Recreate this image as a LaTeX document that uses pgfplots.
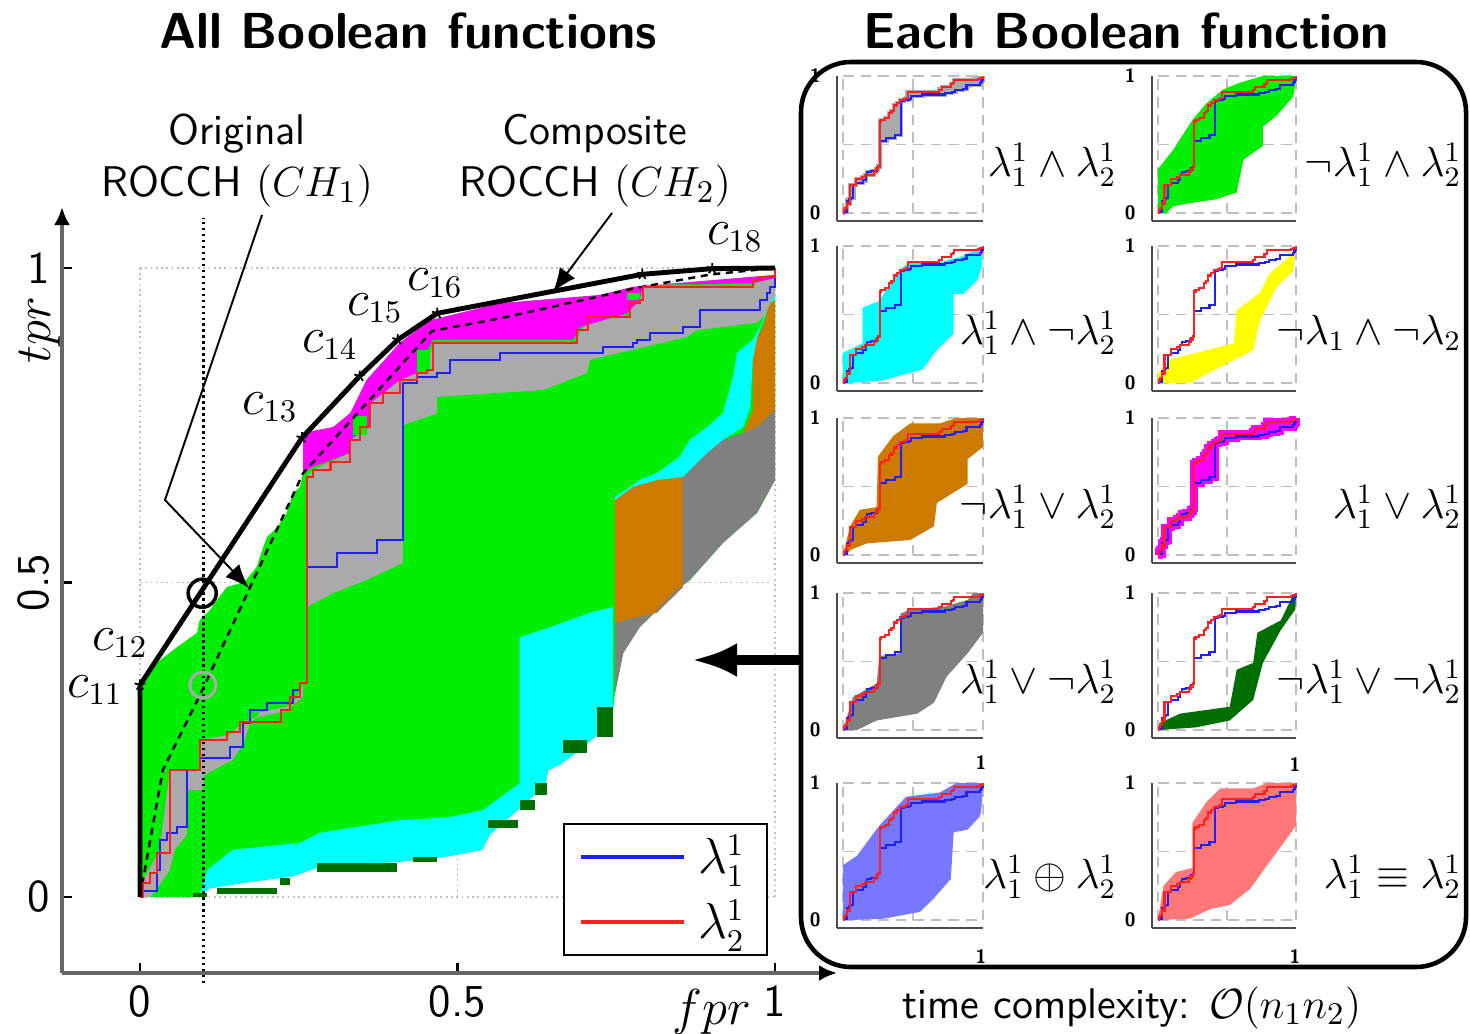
\documentclass[border=0pt]{standalone}
\usepackage{graphicx}
\usepackage{pgfplots}
\pgfplotsset{compat=1.18}
\usepackage{pgfplotstable}
\usetikzlibrary{arrows.meta}

\definecolor{cGreen}{HTML}{00EE00}
\definecolor{cCyan}{HTML}{00FFFF}
\definecolor{cMag}{HTML}{FF00FF}
\definecolor{cBrown}{HTML}{CC7A00}
\definecolor{cLGray}{HTML}{AAAAAA}
\definecolor{cDGray}{HTML}{808080}
\definecolor{cDGreen}{HTML}{006E00}
\definecolor{cYellow}{HTML}{FFFF00}
\definecolor{cBlueF}{HTML}{7777FF}
\definecolor{cRedF}{HTML}{FF7777}
\definecolor{cRed}{HTML}{FF2020}
\definecolor{cBlue}{HTML}{2020FF}

\pgfplotstableread{
x y
0 0
0.005 0
0.005 0.022
0.016 0.022
0.016 0.038
0.027 0.038
0.027 0.070
0.047 0.070
0.047 0.202
0.094 0.202
0.094 0.250
0.137 0.250
0.137 0.262
0.157 0.262
0.157 0.278
0.222 0.278
0.222 0.297
0.236 0.297
0.236 0.318
0.252 0.318
0.252 0.340
0.263 0.340
0.263 0.668
0.272 0.668
0.272 0.679
0.300 0.679
0.300 0.692
0.331 0.692
0.331 0.727
0.346 0.727
0.346 0.747
0.362 0.747
0.362 0.785
0.383 0.785
0.383 0.801
0.409 0.801
0.409 0.822
0.436 0.822
0.436 0.833
0.452 0.833
0.452 0.838
0.461 0.838
0.461 0.881
0.688 0.881
0.688 0.901
0.705 0.901
0.705 0.922
0.772 0.922
0.772 0.944
0.787 0.944
0.787 0.949
0.792 0.949
0.792 0.970
0.965 0.970
0.965 0.981
0.976 0.981
0.976 0.986
1 0.986
1 1
}\redtab

\pgfplotstableread{
x y
0 0
0.005 0
0.005 0.010
0.027 0.010
0.027 0.043
0.031 0.043
0.031 0.091
0.043 0.091
0.043 0.102
0.058 0.102
0.058 0.111
0.074 0.111
0.074 0.202
0.094 0.202
0.094 0.221
0.142 0.221
0.142 0.238
0.162 0.238
0.162 0.277
0.173 0.277
0.173 0.297
0.200 0.297
0.200 0.308
0.241 0.308
0.241 0.329
0.252 0.329
0.252 0.340
0.263 0.340
0.263 0.525
0.310 0.525
0.310 0.547
0.373 0.547
0.373 0.568
0.414 0.568
0.414 0.817
0.436 0.817
0.436 0.827
0.468 0.827
0.468 0.833
0.488 0.833
0.488 0.854
0.567 0.854
0.567 0.865
0.729 0.865
0.729 0.874
0.776 0.874
0.776 0.881
0.783 0.881
0.783 0.886
0.803 0.886
0.803 0.897
0.855 0.897
0.855 0.906
0.882 0.906
0.882 0.933
0.976 0.933
0.976 0.949
0.987 0.949
0.987 0.960
0.992 0.960
0.992 0.970
1 0.970
1 1
}\bluetab

\pgfplotstableread{
x y
0 0
0.047 0.07
0.047 0.202
0.094 0.202
0.094 0.25
0.263 0.34
0.263 0.668
0.331 0.727
0.362 0.785
0.436 0.833
0.461 0.881
0.688 0.881
0.705 0.922
0.772 0.944
0.792 0.97
1 1
1 0.97
0.976 0.933
0.882 0.906
0.803 0.886
0.729 0.865
0.567 0.854
0.488 0.833
0.414 0.817
0.414 0.568
0.263 0.525
0.263 0.34
0.074 0.2
0.074 0.111
0.027 0.01
0 0
}\betweentab

\pgfplotsset{
  smallax/.style={scale only axis, anchor=south west, width=14.6mm, height=14.5mm,
    xmin=-0.043, xmax=1, ymin=-0.058, ymax=1,
    axis x line=bottom, axis y line=left,
    axis line style={-, draw=black!70, line width=0.6pt},
    xtick=\empty, ytick={0,1}, yticklabels={0,1}, major tick length=0pt,
    yticklabel style={font=\fontsize{5.5}{6}\selectfont\sffamily\bfseries, xshift=-0.4mm},
    clip=false},
  sgrid/.style={densely dashed, black!25, line width=0.4pt, forget plot, unbounded coords=jump},
  rline/.style={cRed, line width=0.6pt, forget plot},
  bline/.style={cBlue, line width=0.6pt, forget plot},
  sfill/.style={draw=none, fill=#1, forget plot},
}
\newcommand{\sgridplot}{\addplot[sgrid] coordinates {(0,0)(0,1)(nan,nan)(0.5,0)(0.5,1)(nan,nan)(1,0)(1,1)(nan,nan)(0,0)(1,0)(nan,nan)(0,0.5)(1,0.5)(nan,nan)(0,1)(1,1)};}
\newcommand{\rbplots}{\addplot[bline] table[x=x,y=y]{\bluetab};\addplot[rline] table[x=x,y=y]{\redtab};}
\newcommand{\annfont}{\fontsize{12.2}{14.5}\selectfont\sffamily}
\newcommand{\frmfont}{\fontsize{13.5}{16}\selectfont}
\newcommand{\fnfont}{\fontsize{12}{14}\selectfont}

\begin{document}
\begin{tikzpicture}
\path[use as bounding box] (0,0) rectangle (147mm,-103.4mm);

% ================= main axis =================
\begin{axis}[scale only axis, anchor=south west, at={(6.2mm,-97.3mm)},
  width=77.5mm, height=76.6mm,
  xmin=-0.1228, xmax=1.0976, ymin=-0.1208, ymax=1.097,
  axis x line=bottom, axis y line=left,
  axis line style={draw=black!60, line width=1pt, -{Latex[length=1.8mm,width=1.6mm,color=black]}},
  xtick={0,0.5,1}, ytick={0,0.5,1},
  xticklabels={0,0.5,1}, yticklabels={0,\rotatebox{90}{0.5},1},
  tick align=inside, major tick length=1mm, tick style={black, line width=0.7pt},
  ticklabel style={font=\fontsize{13}{15}\selectfont\sffamily},
  clip=false,
  legend style={at={(0.911,0.196)}, anchor=north east, draw=black, line width=0.6pt, fill=white,
    font=\frmfont, inner xsep=1.5mm, inner ysep=0.4mm, row sep=0.7mm, /tikz/column sep=0.5mm},
  legend cell align=left,
  legend image code/.code={\draw[#1, line width=1.2pt] (0mm,0mm) -- (10.3mm,0mm);},
]
\addplot[black!25, densely dotted, line width=0.5pt, forget plot, unbounded coords=jump] coordinates {(0,0)(1,0)(nan,nan)(0,0.5)(1,0.5)(nan,nan)(0,1)(1,1)(nan,nan)(0,0)(0,1)(nan,nan)(0.5,0)(0.5,1)(nan,nan)(1,0)(1,1)};
% green base (union of all regions)
\addplot[sfill=cGreen] coordinates {(0,0)(0,0.337)(0.016,0.364)(0.058,0.397)(0.090,0.420)(0.094,0.440)(0.110,0.456)(0.121,0.472)(0.137,0.493)(0.165,0.501)(0.184,0.525)(0.194,0.556)(0.2,0.572)(0.216,0.588)(0.231,0.610)(0.241,0.642)(0.252,0.652)(0.257,0.674)(0.257,0.738)(0.304,0.747)(0.331,0.769)(0.357,0.822)(0.409,0.881)(0.457,0.917)(0.567,0.944)(0.724,0.957)(0.776,0.970)(0.965,0.986)(1,0.989)(1,0.663)(0.972,0.611)(0.918,0.563)(0.866,0.504)(0.839,0.483)(0.814,0.456)(0.787,0.429)(0.761,0.388)(0.748,0.324)(0.745,0.297)(0.724,0.261)(0.693,0.234)(0.661,0.210)(0.643,0.202)(0.638,0.178)(0.598,0.141)(0.551,0.099)(0.539,0.075)(0.488,0.065)(0.409,0.056)(0.331,0.052)(0.283,0.048)(0.241,0.033)(0.173,0.024)(0.110,0.014)(0.094,0)};
% cyan lower band
\addplot[sfill=cCyan] coordinates {(0.094,0.003)(0.106,0.043)(0.146,0.075)(0.252,0.086)(0.283,0.102)(0.409,0.122)(0.488,0.127)(0.540,0.138)(0.598,0.181)(0.598,0.413)(0.646,0.429)(0.709,0.452)(0.745,0.461)(0.745,0.297)(0.724,0.261)(0.693,0.234)(0.661,0.210)(0.643,0.202)(0.638,0.178)(0.598,0.141)(0.551,0.099)(0.539,0.075)(0.488,0.065)(0.409,0.056)(0.331,0.052)(0.283,0.048)(0.241,0.033)(0.173,0.024)(0.110,0.014)(0.094,0)};
% brown block and column
\addplot[sfill=cBrown] coordinates {(0.748,0.636)(0.776,0.652)(0.814,0.663)(0.855,0.668)(0.855,0.493)(0.814,0.452)(0.748,0.436)};
\addplot[sfill=cBrown] coordinates {(0.950,0.738)(0.965,0.774)(0.965,0.854)(0.972,0.890)(0.981,0.906)(0.992,0.944)(1,0.949)(1,0.774)(0.972,0.747)};
% dark gray
\addplot[sfill=cDGray] coordinates {(0.855,0.668)(0.893,0.706)(0.918,0.727)(0.950,0.738)(0.972,0.747)(1,0.774)(1,0.663)(0.972,0.611)(0.918,0.563)(0.866,0.504)(0.839,0.483)(0.814,0.456)(0.787,0.429)(0.761,0.388)(0.748,0.324)(0.748,0.436)(0.814,0.452)(0.855,0.493)};
% cyan strip
\addplot[sfill=cCyan] coordinates {(0.748,0.636)(0.772,0.652)(0.787,0.663)(0.814,0.674)(0.850,0.700)(0.866,0.727)(0.893,0.747)(0.918,0.769)(0.934,0.827)(0.940,0.865)(0.965,0.886)(0.976,0.906)(0.987,0.933)(0.997,0.954)(1,0.957)(1,0.949)(0.992,0.944)(0.972,0.890)(0.965,0.854)(0.961,0.779)(0.950,0.747)(0.918,0.727)(0.893,0.706)(0.855,0.668)(0.814,0.663)(0.776,0.652)(0.748,0.631)};
% light gray (lambda1 and lambda2)
\addplot[sfill=cLGray] coordinates {(0.005,0)(0.005,0.027)(0.031,0.075)(0.047,0.202)(0.094,0.202)(0.094,0.250)(0.142,0.258)(0.165,0.281)(0.236,0.297)(0.257,0.340)(0.257,0.318)(0.241,0.305)(0.189,0.294)(0.173,0.273)(0.162,0.242)(0.146,0.218)(0.102,0.194)(0.099,0.170)(0.074,0.170)(0.074,0.099)(0.055,0.075)(0.047,0.043)(0.031,0.019)(0.016,0)};
\addplot[sfill=cLGray] coordinates {(0.263,0.461)(0.263,0.668)(0.272,0.679)(0.331,0.706)(0.331,0.727)(0.362,0.747)(0.362,0.785)(0.383,0.801)(0.409,0.822)(0.436,0.833)(0.452,0.838)(0.461,0.881)(0.688,0.881)(0.693,0.901)(0.720,0.922)(0.772,0.922)(0.772,0.944)(0.787,0.949)(0.792,0.970)(0.965,0.970)(0.976,0.981)(1,0.986)(1,0.957)(0.997,0.954)(0.984,0.925)(0.972,0.913)(0.877,0.901)(0.861,0.890)(0.776,0.870)(0.709,0.854)(0.704,0.833)(0.635,0.806)(0.468,0.795)(0.468,0.769)(0.414,0.750)(0.414,0.531)(0.357,0.504)(0.304,0.483)};
% magenta
\addplot[sfill=cMag] coordinates {(0.257,0.674)(0.257,0.738)(0.304,0.747)(0.331,0.769)(0.357,0.822)(0.409,0.881)(0.457,0.917)(0.567,0.944)(0.724,0.957)(0.776,0.970)(0.965,0.986)(1,0.989)(1,0.984)(0.965,0.976)(0.792,0.973)(0.787,0.949)(0.767,0.928)(0.693,0.906)(0.682,0.886)(0.461,0.886)(0.436,0.833)(0.409,0.822)(0.383,0.801)(0.362,0.785)(0.362,0.747)(0.331,0.727)(0.331,0.706)(0.272,0.684)};
\addplot[sfill=cGreen] coordinates {(0.336,0.735)(0.357,0.735)(0.357,0.765)(0.336,0.765)};
\addplot[sfill=cGreen] coordinates {(0.436,0.835)(0.457,0.835)(0.457,0.870)(0.436,0.870)};
\addplot[sfill=cGreen] coordinates {(0.767,0.949)(0.787,0.949)(0.787,0.960)(0.767,0.960)};
% dark green (not lambda1 or not lambda2)
\addplot[sfill=cDGreen] coordinates {(0.083,0)(0.106,0)(0.106,0.006)(0.083,0.006)};
\addplot[sfill=cDGreen] coordinates {(0.121,0.005)(0.216,0.005)(0.216,0.015)(0.121,0.015)};
\addplot[sfill=cDGreen] coordinates {(0.220,0.019)(0.236,0.019)(0.236,0.030)(0.220,0.030)};
\addplot[sfill=cDGreen] coordinates {(0.279,0.040)(0.405,0.040)(0.405,0.054)(0.279,0.054)};
\addplot[sfill=cDGreen] coordinates {(0.430,0.056)(0.468,0.056)(0.468,0.064)(0.430,0.064)};
\addplot[sfill=cDGreen] coordinates {(0.548,0.110)(0.595,0.110)(0.595,0.122)(0.548,0.122)};
\addplot[sfill=cDGreen] coordinates {(0.598,0.138)(0.622,0.138)(0.622,0.154)(0.598,0.154)};
\addplot[sfill=cDGreen] coordinates {(0.622,0.162)(0.641,0.162)(0.641,0.181)(0.622,0.181)};
\addplot[sfill=cDGreen] coordinates {(0.666,0.229)(0.704,0.229)(0.704,0.250)(0.666,0.250)};
\addplot[sfill=cDGreen] coordinates {(0.720,0.254)(0.745,0.254)(0.745,0.302)(0.720,0.302)};
\addplot[black, densely dotted, line width=0.7pt, forget plot] coordinates {(0.1,-0.137)(0.1,1.08)};
% CH1 (dashed)
\addplot[black, line width=0.7pt, dash pattern=on 2pt off 1.6pt, forget plot] coordinates {(0,0)(0.036,0.202)(0.094,0.320)(0.257,0.674)(0.46,0.9)(0.567,0.92)(0.724,0.955)(0.78,0.968)(0.9,0.99)(1,1)};
\addplot[cBlue, line width=0.6pt] table[x=x,y=y]{\bluetab};
\addlegendentry{$\lambda_1^1$}
\addplot[cRed, line width=0.6pt] table[x=x,y=y]{\redtab};
\addlegendentry{$\lambda_2^1$}
% CH2
\addplot[black, line width=1.4pt, forget plot] coordinates {(0,0)(0,0.337)(0.255,0.730)(0.346,0.828)(0.406,0.886)(0.468,0.928)(0.791,0.990)(0.901,0.999)(1,1)};
\addplot[black, only marks, mark=star, mark size=1.6pt, mark options={line width=0.5pt}, forget plot] coordinates {(0,0.337)(0.255,0.730)(0.346,0.828)(0.406,0.886)(0.468,0.928)(0.791,0.990)(0.901,0.999)};
\addplot[only marks, mark=o, mark size=4pt, mark options={black, line width=1pt}, forget plot] coordinates {(0.098,0.483)};
\addplot[only marks, mark=o, mark size=3.7pt, mark options={cLGray, line width=0.9pt}, forget plot] coordinates {(0.099,0.337)};
\end{axis}

% ================= small axes =================
\begin{axis}[smallax, at={(83.7mm,-22.1mm)}]
\sgridplot
\addplot[cLGray, line width=1.2pt, forget plot] table[x=x,y=y]{\bluetab};
\addplot[cLGray, line width=1.2pt, forget plot] table[x=x,y=y]{\redtab};
\addplot[sfill=cLGray] table[x=x,y=y]{\betweentab};
\rbplots
\end{axis}
\begin{axis}[smallax, width=14.4mm, at={(115.2mm,-22.1mm)}]
\sgridplot
\addplot[sfill=cGreen] coordinates {(0,0)(0,0.32)(0.11,0.46)(0.25,0.68)(0.35,0.8)(0.47,0.9)(0.59,0.95)(0.76,1.0)(1,1)(1,0.97)(0.98,0.85)(0.86,0.71)(0.76,0.63)(0.76,0.49)(0.62,0.39)(0.59,0.25)(0.57,0.15)(0.42,0.1)(0.28,0.08)(0.11,0.05)(0.06,0)};
\rbplots
\end{axis}
\begin{axis}[smallax, at={(83.7mm,-39.1mm)}]
\sgridplot
\addplot[sfill=cCyan] coordinates {(0,0)(0,0.22)(0.14,0.29)(0.14,0.55)(0.26,0.6)(0.38,0.8)(0.48,0.89)(0.69,0.88)(0.84,0.92)(1,1)(0.99,0.84)(0.96,0.75)(0.86,0.65)(0.79,0.65)(0.79,0.36)(0.67,0.24)(0.57,0.1)(0.29,0.02)(0.05,0)};
\rbplots
\end{axis}
\begin{axis}[smallax, width=14.4mm, at={(115.2mm,-39.1mm)}]
\sgridplot
\addplot[sfill=cYellow] coordinates {(0,0)(0.23,0)(0.42,0.1)(0.69,0.24)(0.74,0.46)(0.86,0.7)(0.98,0.82)(1,1)(0.93,0.9)(0.81,0.8)(0.74,0.66)(0.57,0.53)(0.55,0.29)(0.28,0.22)(0.08,0.17)(0,0.07)};
\rbplots
\end{axis}
\begin{axis}[smallax, at={(83.7mm,-56.3mm)}]
\sgridplot
\addplot[sfill=cBrown] coordinates {(0,0)(0.05,0.21)(0.12,0.33)(0.24,0.35)(0.25,0.72)(0.36,0.87)(0.48,0.96)(0.69,0.96)(0.81,1.0)(1,1)(1,0.79)(0.89,0.7)(0.89,0.52)(0.67,0.38)(0.65,0.21)(0.48,0.11)(0.17,0.085)(0.06,0.04)(0.02,0)};
\rbplots
\end{axis}
\begin{axis}[smallax, width=14.4mm, at={(115.2mm,-56.3mm)}]
\sgridplot
\addplot[cMag, line width=2.2pt, forget plot] table[x=x,y=y]{\bluetab};
\addplot[cMag, line width=2.2pt, forget plot] table[x=x,y=y]{\redtab};
\addplot[sfill=cMag] table[x=x,y=y]{\betweentab};
\rbplots
\end{axis}
\begin{axis}[smallax, at={(83.7mm,-73.8mm)}]
\sgridplot
\addplot[sfill=cDGray] coordinates {(0,0)(0.07,0.24)(0.24,0.34)(0.26,0.54)(0.41,0.56)(0.41,0.85)(0.48,0.88)(0.72,0.9)(0.89,0.95)(0.93,1.0)(1,1)(1,0.71)(0.89,0.56)(0.74,0.39)(0.65,0.2)(0.53,0.12)(0.24,0.07)(0.1,0)};
\rbplots
\end{axis}
\begin{axis}[smallax, width=14.4mm, at={(115.2mm,-73.8mm)}]
\sgridplot
\addplot[sfill=cDGreen] coordinates {(0,0)(0.28,0.02)(0.52,0.07)(0.69,0.22)(0.76,0.49)(0.89,0.73)(0.995,0.88)(1,1)(0.98,0.99)(0.89,0.8)(0.72,0.71)(0.69,0.49)(0.57,0.44)(0.52,0.17)(0.16,0.12)(0.01,0.05)};
\rbplots
\end{axis}
\begin{axis}[smallax, at={(83.7mm,-92.8mm)}]
\sgridplot
\addplot[sfill=cBlueF] coordinates {(0,0)(0,0.4)(0.1,0.47)(0.26,0.69)(0.45,0.9)(0.69,0.93)(0.81,1.0)(1,1)(0.99,0.83)(0.98,0.76)(0.89,0.66)(0.79,0.64)(0.77,0.3)(0.65,0.16)(0.55,0.06)(0.29,0.01)(0.05,0)};
\rbplots
\end{axis}
\begin{axis}[smallax, width=14.4mm, at={(115.2mm,-92.8mm)}]
\sgridplot
\addplot[sfill=cRedF] coordinates {(0,0)(0.04,0.25)(0.13,0.35)(0.25,0.38)(0.25,0.71)(0.35,0.86)(0.45,0.96)(0.69,0.96)(0.79,1.0)(1,1)(1,0.69)(0.93,0.59)(0.79,0.4)(0.67,0.23)(0.52,0.11)(0.38,0.08)(0.23,0.01)(0.01,0)};
\rbplots
\end{axis}

% ================= texts and annotations (pixel grid) =================
\begin{scope}[x=0.1mm,y=-0.1mm]
\node[font=\fontsize{14.4}{17}\selectfont\sffamily\bfseries] at (408,31) {All Boolean functions};
\node[font=\fontsize{14.4}{17}\selectfont\sffamily\bfseries] at (1126,31) {Each Boolean function};
\node[font=\annfont] at (237,134) {Original};
\node[font=\annfont] at (237,186) {ROCCH $(CH_1)$};
\node[font=\annfont] at (595,134) {Composite};
\node[font=\annfont] at (595,186) {ROCCH $(CH_2)$};
\draw[line width=0.55pt, -{Latex[length=2.4mm,width=1.9mm]}] (262,215) -- (165,500) -- (249,588);
\draw[line width=0.55pt, -{Latex[length=2.4mm,width=1.9mm]}] (612,213) -- (553,292);
\node[font=\frmfont] at (95,690) {$c_{11}$};
\node[font=\frmfont] at (120,643) {$c_{12}$};
\node[font=\frmfont] at (270,407) {$c_{13}$};
\node[font=\frmfont] at (330,345) {$c_{14}$};
\node[font=\frmfont] at (375,308) {$c_{15}$};
\node[font=\frmfont] at (435,283) {$c_{16}$};
\node[font=\frmfont] at (735,237) {$c_{18}$};
\node[font=\fontsize{14}{16}\selectfont, rotate=90] at (40,330) {$tpr$};
\node[font=\fontsize{14}{16}\selectfont] at (712,1012) {$fpr$};
\draw[line width=1.3pt, rounded corners=5mm] (801,62) rectangle (1466,967);
\draw[line width=1mm, -{Latex[length=4.5mm,width=3.4mm]}] (801,660) -- (692,660);
\node[font=\annfont] at (1132,1008) {time complexity: $\mathcal{O}(n_1n_2)$};
\node[font=\fnfont, anchor=east, inner sep=0pt] at (1117,165) {$\lambda_1^1\wedge\lambda_2^1$};
\node[font=\fnfont, anchor=east, inner sep=0pt] at (1117,333) {$\lambda_1^1\wedge\neg\lambda_2^1$};
\node[font=\fnfont, anchor=east, inner sep=0pt] at (1117,507) {$\neg\lambda_1^1\vee\lambda_2^1$};
\node[font=\fnfont, anchor=east, inner sep=0pt] at (1117,682) {$\lambda_1^1\vee\neg\lambda_2^1$};
\node[font=\fnfont, anchor=east, inner sep=0pt] at (1117,877) {$\lambda_1^1\oplus\lambda_2^1$};
\node[font=\fnfont, anchor=east, inner sep=0pt] at (1462,165) {$\neg\lambda_1^1\wedge\lambda_2^1$};
\node[font=\fnfont, anchor=east, inner sep=0pt] at (1462,333) {$\neg\lambda_1\wedge\neg\lambda_2$};
\node[font=\fnfont, anchor=east, inner sep=0pt] at (1462,507) {$\lambda_1^1\vee\lambda_2^1$};
\node[font=\fnfont, anchor=east, inner sep=0pt] at (1462,682) {$\neg\lambda_1^1\vee\neg\lambda_2^1$};
\node[font=\fnfont, anchor=east, inner sep=0pt] at (1462,877) {$\lambda_1^1\equiv\lambda_2^1$};
\node[font=\fontsize{5.5}{6}\selectfont\sffamily\bfseries] at (981,763) {1};
\node[font=\fontsize{5.5}{6}\selectfont\sffamily\bfseries] at (981,957) {1};
\node[font=\fontsize{5.5}{6}\selectfont\sffamily\bfseries] at (1295,765) {1};
\node[font=\fontsize{5.5}{6}\selectfont\sffamily\bfseries] at (1295,957) {1};
\end{scope}
\end{tikzpicture}
\end{document}
